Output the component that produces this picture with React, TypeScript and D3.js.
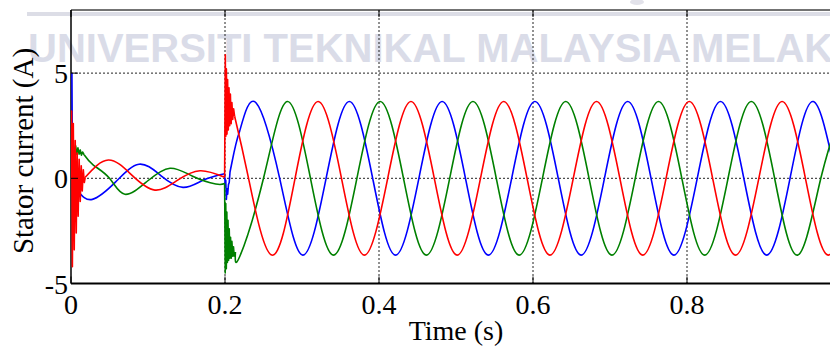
import React from "react";
import * as d3 from "d3";

type P = [number, number];

// ---- tick values ----
const timeTicks = [0, 0.2, 0.4, 0.6, 0.8];
const timeTickLabels = ["0", "0.2", "0.4", "0.6", "0.8"];
const currentTicks = [-5, 0, 5];
const currentGrid = [0, 5];
const timeGrid = [0.2, 0.4, 0.6, 0.8];

// ---- phase a (blue) ----
const blueStart: P[] = [[0.0012, 5.0], [0.0018, 1.0], [0.0025, -0.7], [0.0035, 0.2], [0.0045, -0.6], [0.006, -0.2], [0.0075, -0.6], [0.009, -0.6]];
const blueDecay: P[] = [[0.009, -0.6], [0.0277, -1.0], [0.058, -0.17], [0.0883, 0.67], [0.117, 0.12], [0.1455, -0.43], [0.172, -0.08], [0.1995, 0.22]];
const blueStep: P[] = [[0.1995, 0.22], [0.2003, -0.4], [0.201, -0.1], [0.2018, -1.0], [0.2026, -0.5], [0.2035, -0.75], [0.2045, -0.3], [0.2055, -0.2], [0.2065, 0.3], [0.209, 0.75], [0.2115, 1.2], [0.214, 1.6], [0.2165, 1.95], [0.2195, 2.3]];
const blueSteady: P[] = [[0.2195, 2.3], [0.2405, 3.58], [0.271, 0], [0.301, -3.65], [0.3313, 0], [0.3615, 3.65], [0.3918, 0], [0.4215, -3.65], [0.4518, 0], [0.482, 3.65], [0.5123, 0], [0.542, -3.65], [0.5723, 0], [0.6025, 3.65], [0.6328, 0], [0.6625, -3.65], [0.6928, 0], [0.723, 3.65], [0.7533, 0], [0.783, -3.65], [0.8133, 0], [0.8435, 3.65], [0.8738, 0], [0.9035, -3.65], [0.9338, 0], [0.964, 3.65], [0.9943, 0], [1.024, -3.65]];

// ---- phase b (green) ----
const greenStart: P[] = [[0, 0], [0.0015, 0.9], [0.003, 1.6], [0.0045, 1.1], [0.006, 1.55], [0.0075, 1.15], [0.009, 1.45], [0.0105, 1.15], [0.012, 1.35], [0.0135, 1.1], [0.015, 1.25], [0.017, 1.12]];
const greenDecay: P[] = [[0.017, 1.12], [0.029, 0.63], [0.05, 0.0], [0.07, -0.76], [0.099, -0.14], [0.1286, 0.48], [0.158, 0.1], [0.188, -0.27], [0.1995, -0.25]];
const greenStep: P[] = [[0.1995, -0.25], [0.2003, -4.5], [0.201, -1.2], [0.2017, -4.3], [0.2024, -1.6], [0.2031, -4.0], [0.2039, -2.0], [0.2047, -3.9], [0.2055, -2.4], [0.2063, -3.8], [0.2072, -2.8], [0.2081, -3.8], [0.209, -3.0], [0.21, -3.7], [0.211, -3.25], [0.212, -3.7], [0.2135, -3.5]];
const greenSteady: P[] = [[0.2135, -3.5], [0.219, -3.73], [0.25, 0], [0.281, 3.65], [0.311, 0], [0.341, -3.65], [0.3713, 0], [0.4015, 3.65], [0.4318, 0], [0.4615, -3.65], [0.4918, 0], [0.522, 3.65], [0.5523, 0], [0.582, -3.65], [0.6123, 0], [0.6425, 3.65], [0.6728, 0], [0.7025, -3.65], [0.7328, 0], [0.763, 3.65], [0.7933, 0], [0.823, -3.65], [0.8533, 0], [0.8835, 3.65], [0.9138, 0], [0.9435, -3.65], [0.9738, 0], [1.004, 3.65]];

// ---- phase c (red) ----
const redStart: P[] = [[0, 0], [0.0008, 3.2], [0.0018, -4.2], [0.003, 2.6], [0.0042, -3.4], [0.0055, 1.8], [0.0068, -2.6], [0.008, 1.2], [0.0093, -1.8], [0.0106, 0.9], [0.012, -1.1], [0.0133, 0.6], [0.0146, -0.6], [0.016, 0.4], [0.0173, -0.2], [0.0185, 0.05]];
const redDecay: P[] = [[0.0185, 0.05], [0.0485, 0.87], [0.079, 0.15], [0.109, -0.56], [0.138, -0.1], [0.1675, 0.36], [0.1995, 0.05]];
const redStep: P[] = [[0.1995, 0.05], [0.2004, 5.87], [0.2011, 2.0], [0.2018, 5.2], [0.2026, 2.1], [0.2034, 4.7], [0.2043, 2.3], [0.2052, 4.3], [0.2061, 2.5], [0.207, 4.0], [0.208, 2.6], [0.209, 3.6], [0.21, 2.8], [0.2112, 3.3], [0.2125, 2.95]];
const redSteady: P[] = [[0.2125, 2.95], [0.2306, 0], [0.2608, -3.65], [0.291, 0], [0.321, 3.65], [0.3513, 0], [0.381, -3.65], [0.4113, 0], [0.4415, 3.65], [0.4718, 0], [0.5015, -3.65], [0.5318, 0], [0.562, 3.65], [0.5923, 0], [0.622, -3.65], [0.6523, 0], [0.6825, 3.65], [0.7128, 0], [0.7425, -3.65], [0.7728, 0], [0.803, 3.65], [0.8333, 0], [0.863, -3.65], [0.8933, 0], [0.9235, 3.65], [0.9538, 0], [0.9835, -3.65], [1.0138, 0]];

const series = [
  { color: "#0000ff", parts: [blueStart, blueDecay, blueStep, blueSteady] },
  { color: "#008000", parts: [greenStart, greenDecay, greenStep, greenSteady] },
  { color: "#ff0000", parts: [redStart, redDecay, redStep, redSteady] },
];

const watermark = "UNIVERSITI TEKNIKAL MALAYSIA MELAKA";

const W = 830;
const H = 353;
const L = 71;
const R = 841;
const T = 10;
const B = 283.5;

export default function App() {
  const x = d3.scaleLinear().domain([0, 1]).range([L, R]);
  const y = d3.scaleLinear().domain([-5, 8]).range([B, T]);
  const lin = d3.line<P>().x((d) => x(d[0])).y((d) => y(d[1])).curve(d3.curveLinear);
  const nat = d3.line<P>().x((d) => x(d[0])).y((d) => y(d[1])).curve(d3.curveNatural);
  const serif = "'Liberation Serif', 'Times New Roman', serif";
  const tickLen = 7;

  return (
    <svg width={W} height={H} style={{ position: "absolute", left: 0, top: 0, background: "#fff" }}>
      <defs>
        <clipPath id="plotclip">
          <rect x={L} y={T} width={R - L} height={B - T} />
        </clipPath>
      </defs>
      <rect x={0} y={0} width={W} height={H} fill="#fff" />
      {/* watermark */}
      <rect x={27} y={12} width={W - 27} height={4} fill="#dcdde6" />
      <ellipse cx={637} cy={2} rx={7} ry={3} fill="#e2e2ea" />
      <text x={28} y={62} fontFamily="'Liberation Sans', Arial, sans-serif" fontWeight="bold" fontSize={40} fill="#dadce8">
        {watermark}
      </text>
      {/* grid */}
      {currentGrid.map((v) => (
        <line key={"hg" + v} x1={L} x2={R} y1={y(v)} y2={y(v)} stroke="#222" strokeWidth={1} strokeDasharray="2,2" />
      ))}
      {timeGrid.map((t) => (
        <line key={"vg" + t} x1={x(t)} x2={x(t)} y1={T} y2={B} stroke="#222" strokeWidth={1} strokeDasharray="2,2" />
      ))}
      {/* axes */}
      <line x1={L} x2={W} y1={T} y2={T} stroke="#444" strokeWidth={1.5} />
      <line x1={L} x2={L} y1={T} y2={B} stroke="#000" strokeWidth={1.5} />
      {/* traces */}
      <g clipPath="url(#plotclip)" fill="none" strokeWidth={1.6} strokeLinejoin="round">
        {series.map((s, i) => (
          <g key={i} stroke={s.color}>
            {s.parts.map((p, j) => (
              <path key={j} d={(j % 2 === 0 ? lin : nat)(p) || ""} />
            ))}
          </g>
        ))}
      </g>
      <line x1={L} x2={W} y1={B} y2={B} stroke="#000" strokeWidth={2} />
      {timeTicks.map((t) => (
        <g key={"xt" + t}>
          <line x1={x(t)} x2={x(t)} y1={B} y2={B - tickLen} stroke="#000" strokeWidth={1} />
          <line x1={x(t)} x2={x(t)} y1={T} y2={T + tickLen} stroke="#000" strokeWidth={1} />
        </g>
      ))}
      {currentTicks.map((v) => (
        <line key={"yt" + v} x1={L} x2={L + tickLen} y1={y(v)} y2={y(v)} stroke="#000" strokeWidth={1} />
      ))}
      {timeTicks.map((t, i) => (
        <text key={"xl" + t} x={x(t)} y={314} textAnchor="middle" fontFamily={serif} fontSize={28} fill="#000">
          {timeTickLabels[i]}
        </text>
      ))}
      {currentTicks.map((v) => (
        <text key={"yl" + v} x={68} y={y(v) + 10} textAnchor="end" fontFamily={serif} fontSize={28} fill="#000">
          {String(v)}
        </text>
      ))}
      <text x={(L + R) / 2} y={340} textAnchor="middle" fontFamily={serif} fontSize={28} fill="#000">
        Time (s)
      </text>
      <text transform={`translate(33, 151) rotate(-90)`} textAnchor="middle" fontFamily={serif} fontSize={29} fill="#000">
        Stator current (A)
      </text>
    </svg>
  );
}
